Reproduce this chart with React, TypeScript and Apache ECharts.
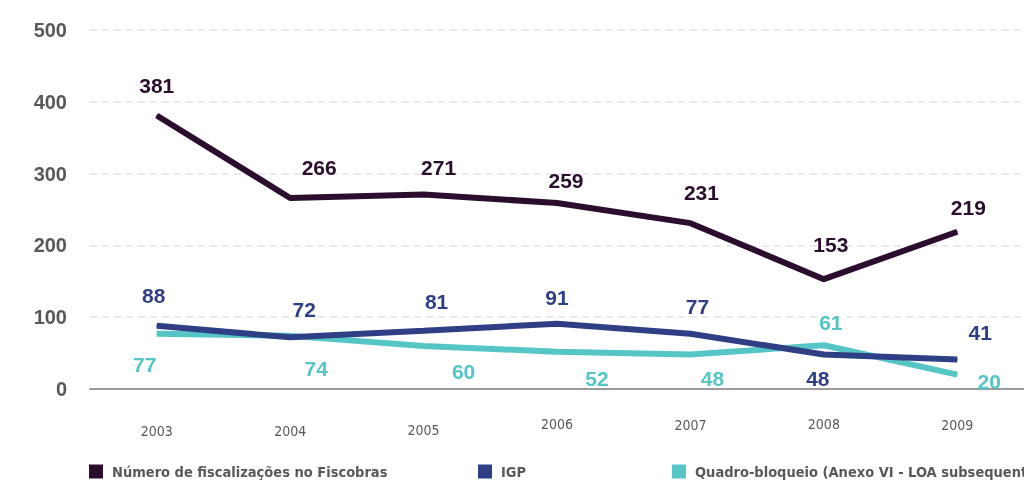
import React, { useEffect, useRef } from "react";
import * as echarts from "echarts";

const years = ["2003", "2004", "2005", "2006", "2007", "2008", "2009"];
const fiscalizacoes = [381, 266, 271, 259, 231, 153, 219];
const igp = [88, 72, 81, 91, 77, 48, 41];
const quadroBloqueio = [77, 74, 60, 52, 48, 61, 20];
const yTicks = [0, 100, 200, 300, 400, 500];

const seriesNames = [
  "Número de fiscalizações no Fiscobras",
  "IGP",
  "Quadro-bloqueio (Anexo VI - LOA subsequente)",
];
const colors = ["#2b0e2d", "#2f3f86", "#55c5c6"];

// label placement (styling only)
const labelOffsets = [
  [[0, -30], [29, -31], [15, -27], [9, -23], [11, -31], [7, -35], [11, -24]],
  [[-3, -30], [14, -28], [13, -29], [0, -26], [7, -27], [-6, 24], [23, -27]],
  [[-12, 31], [26, 33], [40, 26], [40, 27], [22, 24], [7, -23], [32, 7]],
];
const xLabelShift = [7, 7, 6, 0, 1, 0, 1];

const FONT = "'DejaVu Sans Condensed', 'Liberation Sans', sans-serif";
const NUMFONT = "'Liberation Sans', 'DejaVu Sans Condensed', sans-serif";
const GREY = "#58595b";

export default function App() {
  const ref = useRef<HTMLDivElement>(null);
  useEffect(() => {
    if (!ref.current) return;
    const chart = echarts.init(ref.current, null, { renderer: "svg" });
    const allData = [fiscalizacoes, igp, quadroBloqueio];
    const rich: Record<string, any> = {};
    xLabelShift.forEach((s, i) => {
      rich["y" + i] = {
        fontFamily: FONT,
        fontSize: 14,
        color: GREY,
        padding: [s, 0, 0, 0],
      };
    });
    chart.setOption({
      animation: false,
      textStyle: { fontFamily: FONT },
      grid: { left: 90, top: 30, width: 952, bottom: 92 },
      xAxis: {
        type: "category",
        data: years,
        boundaryGap: true,
        offset: 8,
        axisLine: { show: true, lineStyle: { color: "#9a9a9a", width: 2 } },
        axisTick: { show: false },
        axisLabel: {
          margin: 20,
          formatter: (v: string, i: number) => `{y${i}|${v}}`,
          rich,
        },
        splitLine: { show: false },
      },
      yAxis: {
        type: "value",
        min: 0,
        max: 500,
        interval: 100,
        axisLine: { show: false },
        axisTick: { show: false },
        axisLabel: {
          margin: 23,
          fontFamily: NUMFONT,
          fontSize: 20,
          fontWeight: "bold",
          color: GREY,
          formatter: (v: number) => (yTicks.includes(v) ? String(v) : ""),
        },
        splitLine: {
          show: true,
          showMinLine: false,
          lineStyle: { color: "#e4e4e4", width: 1.5, type: [7, 5] },
        },
      },
      legend: seriesNames.map((n, i) => ({
        left: [89, 478, 672][i],
        top: 464,
        data: [n],
        icon: "rect",
        itemWidth: 14,
        itemHeight: 14,
        padding: 0,
        textStyle: {
          fontFamily: FONT,
          fontSize: 14.5,
          fontWeight: "bold",
          color: GREY,
          padding: [0, 0, 0, 4],
        },
        selectedMode: false,
      })),
      series: allData.map((d, si) => ({
        name: seriesNames[si],
        type: "line",
        data: d.map((v, i) => ({
          value: v,
          label: { offset: labelOffsets[si][i] },
        })),
        symbol: "circle",
        symbolSize: 1,
        showSymbol: true,
        color: colors[si],
        itemStyle: { color: colors[si] },
        lineStyle: { color: colors[si], width: 6 },
        z: [4, 3, 2][si],
        label: {
          show: true,
          position: "inside",
          fontFamily: NUMFONT,
          fontSize: 21,
          fontWeight: "bold",
          color: colors[si],
        },
      })),
    });
    return () => chart.dispose();
  }, []);
  return (
    <div
      ref={ref}
      style={{ position: "fixed", left: 0, top: 0, width: 1024, height: 481 }}
    />
  );
}
